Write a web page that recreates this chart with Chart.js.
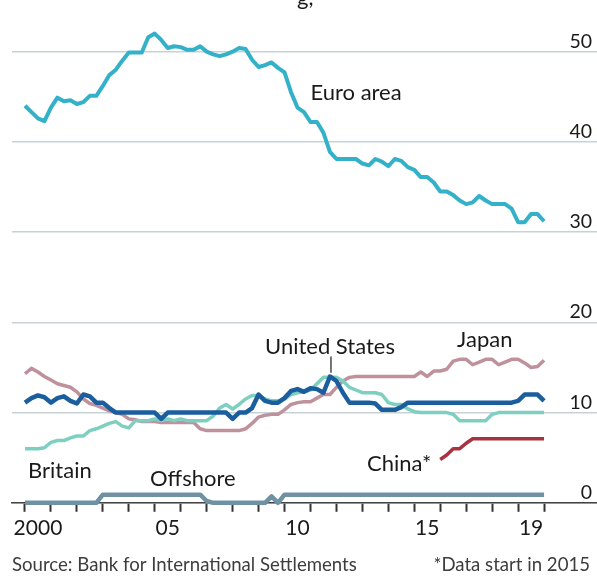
<!DOCTYPE html>
<html>
<head>
<meta charset="utf-8">
<script src="https://cdn.jsdelivr.net/npm/chart.js@4.4.1/dist/chart.umd.min.js"></script>
<style>
  html, body { margin: 0; padding: 0; background: #fff; }
  #wrap { width: 597px; height: 580px; position: relative; }
</style>
</head>
<body>
<div id="wrap"><canvas id="chart"></canvas></div>
<script>
// quarterly points, 2000 to end-2019
const quarters = Array.from({ length: 81 }, (_, i) => 2000 + i / 4);

const euroArea = [
  44.0, 43.3, 42.6, 42.3, 43.8, 44.9, 44.5, 44.6, 44.2, 44.4,
  45.1, 45.1, 46.2, 47.4, 48.0, 49.0, 49.9, 49.9, 49.9, 51.6,
  52.0, 51.3, 50.4, 50.6, 50.5, 50.2, 50.2, 50.6, 50.0, 49.7,
  49.5, 49.7, 50.0, 50.4, 50.3, 49.1, 48.3, 48.5, 48.8, 48.2,
  47.7, 45.5, 43.8, 43.3, 42.2, 42.2, 41.0, 38.9, 38.1, 38.1,
  38.1, 38.1, 37.6, 37.4, 38.1, 37.8, 37.3, 38.1, 37.9, 37.2,
  36.9, 36.1, 36.1, 35.5, 34.5, 34.5, 34.1, 33.5, 33.1, 33.3,
  34.0, 33.5, 33.1, 33.1, 33.1, 32.6, 31.1, 31.1, 32.0, 32.0, 31.2
];
const unitedStates = [
  11.1, 11.6, 11.9, 11.7, 11.1, 11.6, 11.8, 11.3, 11.0, 12.0,
  11.8, 11.1, 11.1, 10.5, 10.0, 10.0, 10.0, 10.0, 10.0, 10.0,
  10.0, 9.3, 10.0, 10.0, 10.0, 10.0, 10.0, 10.0, 10.0, 10.0,
  10.0, 10.0, 9.3, 10.0, 10.0, 10.5, 12.0, 11.3, 11.1, 11.1,
  11.6, 12.4, 12.6, 12.3, 12.7, 12.6, 12.2, 14.0, 13.5, 12.2,
  11.1, 11.1, 11.1, 11.1, 11.0, 10.3, 10.3, 10.3, 10.6, 11.1,
  11.1, 11.1, 11.1, 11.1, 11.1, 11.1, 11.1, 11.1, 11.1, 11.1,
  11.1, 11.1, 11.1, 11.1, 11.1, 11.1, 11.3, 12.0, 12.0, 12.0, 11.3
];
const japan = [
  14.3, 14.9, 14.5, 14.0, 13.6, 13.2, 13.0, 12.8, 12.3, 11.5,
  11.0, 10.8, 10.5, 10.2, 10.0, 9.8, 9.3, 9.2, 9.0, 9.0,
  9.0, 8.9, 8.9, 8.9, 8.9, 8.9, 8.9, 8.2, 8.0, 8.0,
  8.0, 8.0, 8.0, 8.0, 8.2, 8.8, 9.5, 9.7, 9.8, 9.8,
  10.3, 10.9, 11.1, 11.2, 11.2, 11.6, 12.0, 12.0, 12.8, 13.5,
  13.9, 14.0, 14.0, 14.0, 14.0, 14.0, 14.0, 14.0, 14.0, 14.0,
  14.0, 14.5, 14.0, 14.6, 14.6, 14.8, 15.7, 15.9, 15.9, 15.3,
  15.6, 15.9, 15.9, 15.3, 15.6, 15.9, 15.9, 15.5, 15.0, 15.1, 15.8
];
const britain = [
  6.0, 6.0, 6.0, 6.1, 6.7, 6.9, 6.9, 7.2, 7.4, 7.4,
  8.0, 8.2, 8.5, 8.8, 9.0, 8.5, 8.3, 9.1, 9.1, 9.1,
  9.3, 9.1, 9.3, 9.1, 9.3, 9.1, 9.1, 9.1, 9.1, 9.6,
  10.5, 10.9, 10.4, 10.9, 11.5, 11.9, 11.9, 11.5, 11.3, 11.3,
  11.5, 12.0, 12.2, 12.3, 12.5, 13.2, 13.9, 13.9, 13.9, 13.5,
  12.8, 12.5, 12.2, 12.2, 12.2, 12.0, 11.1, 10.9, 10.9, 10.4,
  10.1, 10.0, 10.0, 10.0, 10.0, 10.0, 9.8, 9.1, 9.1, 9.1,
  9.1, 9.1, 9.8, 10.0, 10.0, 10.0, 10.0, 10.0, 10.0, 10.0, 10.0
];
const china = [
  null, null, null, null, null, null, null, null, null, null,
  null, null, null, null, null, null, null, null, null, null,
  null, null, null, null, null, null, null, null, null, null,
  null, null, null, null, null, null, null, null, null, null,
  null, null, null, null, null, null, null, null, null, null,
  null, null, null, null, null, null, null, null, null, null,
  null, null, null, null, 4.8, 5.3, 6.0, 6.0, 6.6, 7.1,
  7.1, 7.1, 7.1, 7.1, 7.1, 7.1, 7.1, 7.1, 7.1, 7.1, 7.1
];
const offshore = [
  0, 0, 0, 0, 0, 0, 0, 0, 0, 0,
  0, 0, 0.9, 0.9, 0.9, 0.9, 0.9, 0.9, 0.9, 0.9,
  0.9, 0.9, 0.9, 0.9, 0.9, 0.9, 0.9, 0.9, 0.2, 0,
  0, 0, 0, 0, 0, 0, 0, 0, 0.7, 0,
  0.9, 0.9, 0.9, 0.9, 0.9, 0.9, 0.9, 0.9, 0.9, 0.9,
  0.9, 0.9, 0.9, 0.9, 0.9, 0.9, 0.9, 0.9, 0.9, 0.9,
  0.9, 0.9, 0.9, 0.9, 0.9, 0.9, 0.9, 0.9, 0.9, 0.9,
  0.9, 0.9, 0.9, 0.9, 0.9, 0.9, 0.9, 0.9, 0.9, 0.9, 0.9
];

const yTicks = [0, 10, 20, 30, 40, 50];
const xTickYears = [2000, 2001, 2002, 2003, 2004, 2005, 2006, 2007, 2008, 2009, 2010,
  2011, 2012, 2013, 2014, 2015, 2016, 2017, 2018, 2019, 2020];
const xLabelYears = [2000, 2005, 2010, 2015, 2019];
const xLabelText = ['2000', '05', '10', '15', '19'];

const FONT = 'Lato';

// where the series names sit, in data units
const nameTags = [
  { text: 'Euro area', year: 2011.0, value: 44.6 },
  { text: 'United States', year: 2009.25, value: 16.5 },
  { text: 'Japan', year: 2016.65, value: 17.3 },
  { text: 'China*', year: 2013.18, value: 3.55 },
  { text: 'Britain', year: 2000.12, value: 2.8 },
  { text: 'Offshore', year: 2004.82, value: 1.9 }
];

function pts(arr) {
  return arr.map((v, i) => ({ x: quarters[i], y: v }));
}

function line(label, arr, color, width, order) {
  return {
    label, data: pts(arr), borderColor: color, borderWidth: width,
    pointRadius: 0, tension: 0, borderJoinStyle: 'round', clip: false, order
  };
}

const textPlugin = {
  id: 'textPlugin',
  afterDatasetsDraw(chart) {
    const { ctx, scales: { x, y } } = chart;
    ctx.save();
    ctx.fillStyle = '#1a1a1a';
    ctx.textBaseline = 'alphabetic';

    // y tick labels sit above their gridlines at the right edge
    ctx.font = '19.5px ' + FONT;
    ctx.textAlign = 'right';
    yTicks.forEach(v => ctx.fillText(String(v), 592, y.getPixelForValue(v) - 4));

    ctx.font = '22px ' + FONT;
    ctx.textAlign = 'left';
    nameTags.forEach(t => ctx.fillText(t.text, x.getPixelForValue(t.year), y.getPixelForValue(t.value)));

    // leader from "United States" to its peak
    ctx.strokeStyle = '#1a1a1a';
    ctx.lineWidth = 1.2;
    ctx.beginPath();
    ctx.moveTo(x.getPixelForValue(2011.79), y.getPixelForValue(16.2));
    ctx.lineTo(x.getPixelForValue(2011.79), y.getPixelForValue(14.4));
    ctx.stroke();

    // title line is cut off at the top, only the tail shows
    ctx.font = '22px ' + FONT;
    ctx.fillText('g,', 297, 5);

    ctx.font = '18.6px ' + FONT;
    ctx.fillStyle = '#3d3d3d';
    ctx.fillText('Source: Bank for International Settlements', 12, 571);
    ctx.textAlign = 'right';
    ctx.fillText('*Data start in 2015', 590, 571);
    ctx.restore();
  }
};

new Chart(document.getElementById('chart'), {
  type: 'line',
  data: {
    datasets: [
      line('Euro area', euroArea, '#33b1c9', 4, 1),
      line('United States', unitedStates, '#1b5e9e', 4.5, 2),
      line('Britain', britain, '#7dcfc0', 3.5, 3),
      line('Japan', japan, '#bf919d', 3.5, 4),
      line('China', china, '#a8323f', 3.5, 5),
      line('Offshore', offshore, '#6f91a3', 4.5, 6)
    ]
  },
  options: {
    responsive: true,
    maintainAspectRatio: false,
    animation: false,
    devicePixelRatio: 1,
    layout: { padding: { left: 12, right: 0, top: 2, bottom: 35 } },
    plugins: { legend: { display: false }, tooltip: { enabled: false } },
    scales: {
      x: {
        type: 'linear', min: 1999.5, max: 2022.04,
        afterBuildTicks: s => { s.ticks = xTickYears.map(v => ({ value: v })); },
        afterFit: s => { s.paddingLeft = 0; s.paddingRight = 0; },
        grid: { display: true, drawOnChartArea: false, drawTicks: true, tickLength: 9, tickColor: '#333', tickWidth: 2 },
        border: { display: true, color: '#444', width: 1.5 },
        ticks: {
          autoSkip: false, maxRotation: 0, labelOffset: 13, padding: 4,
          font: { family: FONT, size: 21 }, color: '#1a1a1a',
          callback: v => { const k = xLabelYears.indexOf(v); return k < 0 ? '' : xLabelText[k]; }
        }
      },
      y: {
        type: 'linear', position: 'right', min: 0, max: 55.5,
        afterBuildTicks: s => { s.ticks = yTicks.map(v => ({ value: v })); },
        grid: { color: '#c8d1d5', lineWidth: 1.5, drawTicks: false },
        border: { display: false },
        ticks: { display: false }
      }
    }
  },
  plugins: [textPlugin]
});
</script>
</body>
</html>
